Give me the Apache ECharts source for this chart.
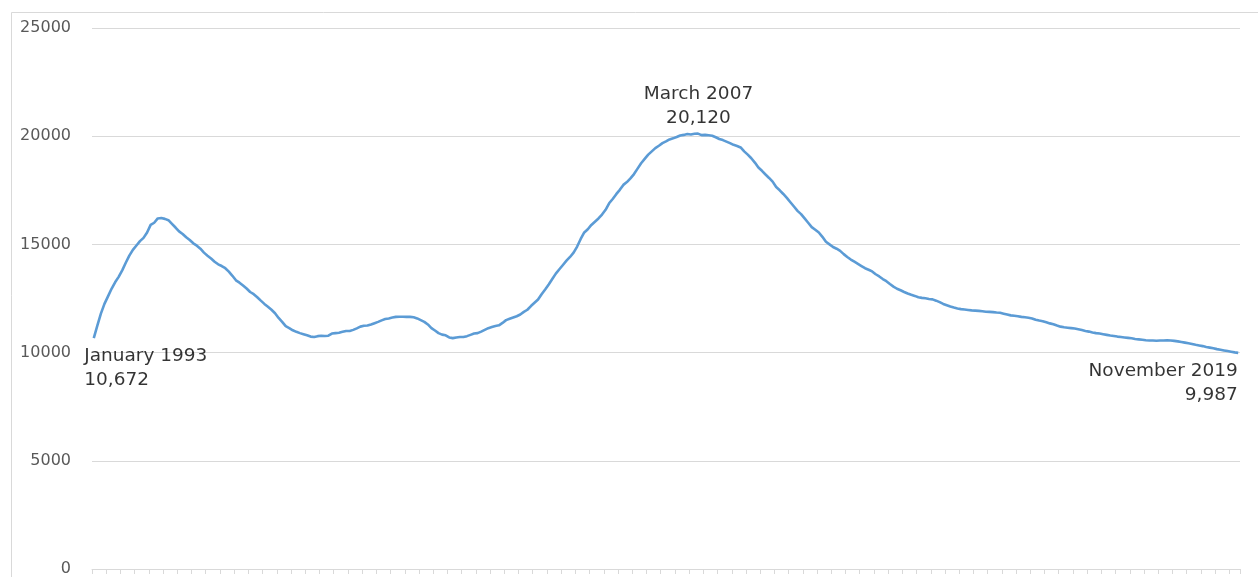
<!DOCTYPE html>
<html><head><meta charset="utf-8">
<script src="https://cdn.jsdelivr.net/npm/echarts@6/dist/echarts.min.js"></script>
<style>html,body{margin:0;padding:0;background:#fff}#c{width:1258px;height:577px}</style>
</head><body><div id="c"></div>
<script>
const startYear = 1993;
const monthNames = ['January','February','March','April','May','June','July','August','September','October','November','December'];

// Monthly values, January 1993 .. November 2019
const v1993 = [10672, 11250, 11800, 12250, 12600, 12950, 13250, 13500, 13800, 14150, 14480, 14750];
const v1994 = [14950, 15150, 15300, 15550, 15900, 16000, 16200, 16220, 16180, 16120, 15950, 15780];
const v1995 = [15600, 15480, 15330, 15200, 15050, 14940, 14800, 14620, 14480, 14350, 14200, 14080];
const v1996 = [14000, 13900, 13740, 13550, 13340, 13230, 13100, 12960, 12800, 12700, 12560, 12400];
const v1997 = [12250, 12120, 11980, 11820, 11600, 11420, 11220, 11130, 11030, 10960, 10900, 10850];
const v1998 = [10800, 10740, 10720, 10760, 10780, 10770, 10780, 10880, 10900, 10920, 10960, 11000];
const v1999 = [11000, 11050, 11120, 11200, 11240, 11250, 11300, 11360, 11420, 11490, 11550, 11580];
const v2000 = [11620, 11650, 11660, 11660, 11650, 11650, 11630, 11580, 11500, 11420, 11300, 11130];
const v2001 = [11020, 10900, 10830, 10800, 10700, 10670, 10700, 10720, 10720, 10760, 10820, 10880];
const v2002 = [10900, 10970, 11050, 11130, 11180, 11230, 11260, 11370, 11500, 11560, 11620, 11680];
const v2003 = [11760, 11880, 11980, 12150, 12300, 12450, 12700, 12920, 13150, 13400, 13650, 13850];
const v2004 = [14050, 14250, 14420, 14620, 14900, 15250, 15550, 15700, 15900, 16050, 16200, 16380];
const v2005 = [16600, 16900, 17100, 17320, 17520, 17750, 17880, 18050, 18250, 18500, 18750, 18950];
const v2006 = [19150, 19300, 19450, 19560, 19680, 19760, 19850, 19900, 19960, 20030, 20060, 20100];
const v2007 = [20080, 20110, 20120, 20050, 20060, 20040, 20020, 19950, 19870, 19820, 19750, 19680];
const v2008 = [19600, 19550, 19480, 19300, 19150, 18980, 18780, 18550, 18400, 18230, 18070, 17900];
const v2009 = [17650, 17500, 17330, 17150, 16950, 16750, 16550, 16400, 16200, 16000, 15800, 15680];
const v2010 = [15550, 15350, 15120, 15000, 14880, 14800, 14700, 14550, 14420, 14300, 14200, 14100];
const v2011 = [14000, 13900, 13830, 13750, 13620, 13520, 13400, 13300, 13170, 13050, 12950, 12880];
const v2012 = [12800, 12730, 12670, 12620, 12560, 12530, 12510, 12480, 12460, 12400, 12330, 12250];
const v2013 = [12190, 12130, 12080, 12040, 12010, 11990, 11970, 11950, 11940, 11930, 11910, 11890];
const v2014 = [11880, 11870, 11850, 11840, 11800, 11760, 11720, 11700, 11680, 11650, 11630, 11610];
const v2015 = [11580, 11520, 11480, 11450, 11400, 11350, 11310, 11250, 11200, 11170, 11150, 11130];
const v2016 = [11110, 11080, 11040, 11000, 10970, 10930, 10900, 10880, 10850, 10820, 10790, 10770];
const v2017 = [10740, 10720, 10700, 10680, 10660, 10630, 10610, 10590, 10570, 10560, 10560, 10550];
const v2018 = [10560, 10560, 10570, 10560, 10540, 10520, 10490, 10460, 10430, 10400, 10360, 10330];
const v2019 = [10300, 10260, 10230, 10200, 10160, 10130, 10100, 10070, 10040, 10010, 9987];

const values = [].concat(v1993, v1994, v1995, v1996, v1997, v1998, v1999, v2000, v2001, v2002,
  v2003, v2004, v2005, v2006, v2007, v2008, v2009, v2010, v2011, v2012, v2013, v2014, v2015,
  v2016, v2017, v2018, v2019);
const categories = values.map((_, i) => monthNames[i % 12] + ' ' + (startYear + Math.floor(i / 12)));

const yTicks = [0, 5000, 10000, 15000, 20000, 25000];
const annotatedIdx = [0, 170, 322];

const fmt = n => n.toLocaleString('en-US');
const labelFont = 'DejaVu Sans';

const labelPos = {
  0:   { align: 'left',   verticalAlign: 'top',    offset: [-9, 7] },
  170: { align: 'center', verticalAlign: 'bottom', offset: [1, -3] },
  322: { align: 'right',  verticalAlign: 'top',    offset: [0, 7] }
};

const chart = echarts.init(document.getElementById('c'));
chart.setOption({
  animation: false,
  backgroundColor: '#fff',
  graphic: [{
    type: 'rect', left: 9, top: 10, silent: true,
    shape: { width: 1248, height: 620 },
    style: { fill: 'none', stroke: '#d9d9d9', lineWidth: 1 }
  }],
  grid: { left: 92, right: 18, top: 28, bottom: 4, containLabel: false },
  xAxis: {
    type: 'category', data: categories, boundaryGap: true,
    axisLine: { show: true, lineStyle: { color: '#d9d9d9', width: 1 } },
    axisTick: { show: true, interval: 3, length: 5, lineStyle: { color: '#d9d9d9' } },
    axisLabel: { show: false },
    splitLine: { show: false }
  },
  yAxis: {
    type: 'value', min: yTicks[0], max: yTicks[yTicks.length - 1], interval: yTicks[1] - yTicks[0],
    axisLine: { show: false }, axisTick: { show: false },
    axisLabel: { color: '#595959', fontSize: 16, fontFamily: labelFont, margin: 21, formatter: v => String(v) },
    splitLine: { lineStyle: { color: '#d9d9d9', width: 1 } }
  },
  series: [{
    type: 'line', data: values, showSymbol: false, smooth: false,
    lineStyle: { color: '#5b9bd5', width: 2.6 }, z: 3
  }, {
    type: 'scatter', symbolSize: 1, itemStyle: { color: 'rgba(0,0,0,0)' }, z: 4,
    data: annotatedIdx.map(i => ({
      value: [i, values[i]],
      label: Object.assign({
        show: true, position: [0, 0],
        formatter: categories[i] + '\n' + fmt(values[i]),
        color: '#000', fontSize: 18.5, fontFamily: labelFont, lineHeight: 24
      }, labelPos[i])
    }))
  }]
});
</script></body></html>
